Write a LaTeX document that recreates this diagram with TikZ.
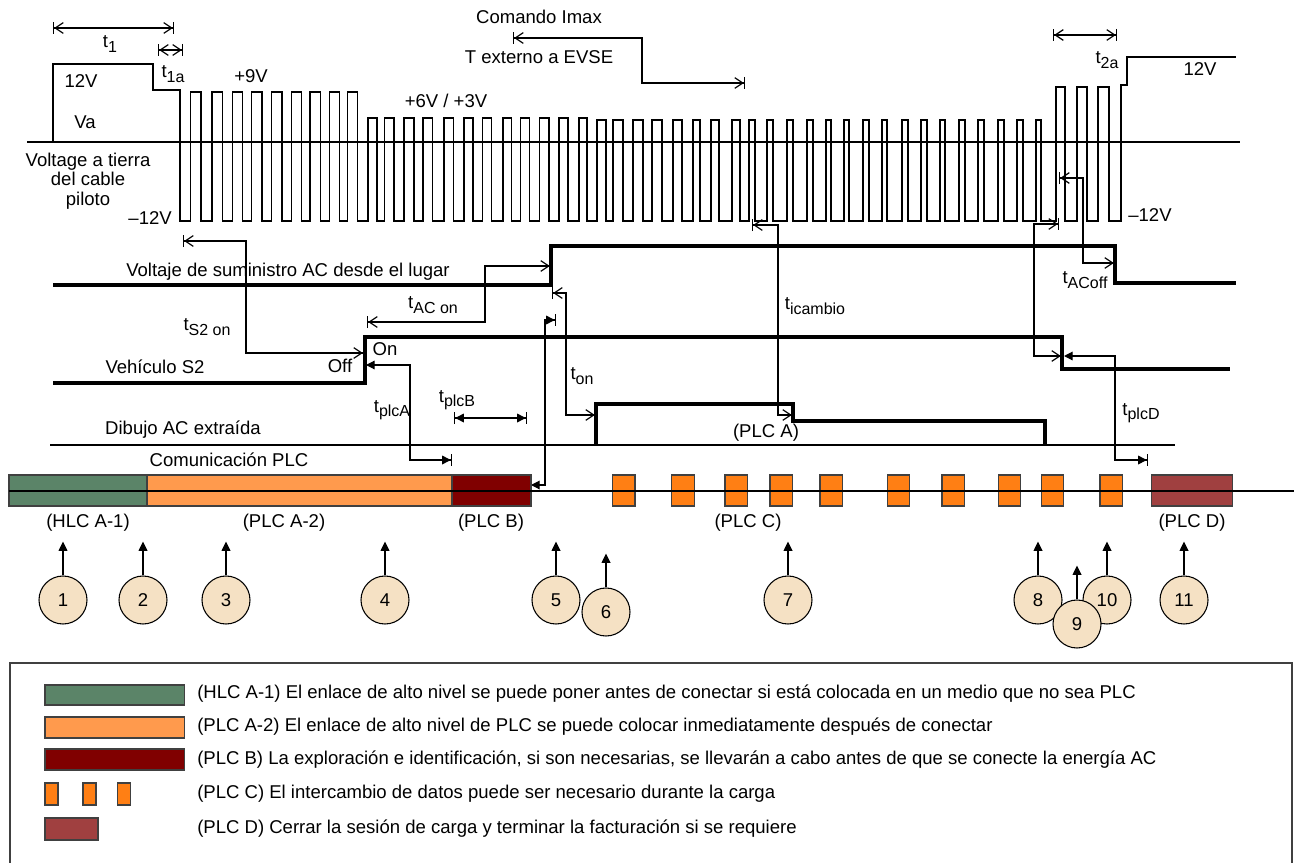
\documentclass[tikz,border=0pt]{standalone}
\usepackage{fontspec}
\setmainfont{Liberation Sans}
\usetikzlibrary{arrows.meta}
\definecolor{hlcgreen}{RGB}{91,132,104}
\definecolor{plcaorange}{RGB}{255,154,77}
\definecolor{plcbred}{RGB}{128,0,0}
\definecolor{plccorange}{RGB}{255,127,20}
\definecolor{plcdred}{RGB}{160,64,64}
\definecolor{circfill}{RGB}{245,225,196}
\newcommand\tsub[1]{\raisebox{-0.45ex}{\fontsize{12}{12}\selectfont #1}}
\begin{document}
\begin{tikzpicture}[x=0.75pt,y=-0.75pt,
  txt/.style={font=\fontsize{13.9}{14.6}\selectfont, inner sep=0pt},
  wave/.style={line width=1pt},
  sig/.style={line width=2.3pt},
  dim/.style={line width=0.9pt},
  oo/.style={dim,{Bar[width=9pt]Straight Barb[length=6pt,width=8pt]}-{Straight Barb[length=6pt,width=8pt]Bar[width=9pt]}},
  ff/.style={dim,{Bar[width=9pt]Triangle[length=6.5pt,width=6.5pt]}-{Triangle[length=6.5pt,width=6.5pt]Bar[width=9pt]}},
  fnf/.style={dim,{Triangle[length=6.5pt,width=6.5pt]}-{Triangle[length=6.5pt,width=6.5pt]Bar[width=9pt]}},
  upar/.style={line width=1pt,-{Triangle[length=7pt,width=6.5pt]}},
  plcbox/.style={draw=black!75,line width=0.8pt},
  num/.style={circle,draw,line width=0.8pt,fill=circfill,minimum size=36pt,inner sep=0pt,font=\fontsize{13.9}{14}\selectfont}
]
\useasboundingbox (0,0) rectangle (1302,863);

% ---------------- pilot waveform ----------------
\draw[wave] (27,142) -- (1240,142);
\draw[wave] (53,142) -- (53,64) -- (153,64) -- (153,90) -- (180,90) -- (180,221)
  \foreach \r/\f in {190.7/201,212/222.7,232.7/242.7,251.7/262,271.7/282,291.7/301.7,310/320.7,329.3/339.3,347.7/357.7}
    { -- (\r,221) -- (\r,92) -- (\f,92) -- (\f,221)}
  \foreach \r/\f in {368/377,384.5/394,404/414,423/432.5,444/453.5,464/473,482.5/491.5,503/511.5,520.5/529.3,539.5/549,559/568,579/587}
    { -- (\r,221) -- (\r,118) -- (\f,118) -- (\f,221)}
  \foreach \r/\f in {597/606,613/623,633/643,652/662,673/682,693/700,711/719,732/740,749/755,767/773,787/793,807/813,826/831,844/849,863/869,882/887,902/908,921/927,940/945,959/965,978/984,998/1004,1017/1023,1036/1041}
    { -- (\r,221) -- (\r,120) -- (\f,120) -- (\f,221)}
  \foreach \r/\f in {1056/1065,1077/1087,1098/1109}
    { -- (\r,221) -- (\r,87) -- (\f,87) -- (\f,221)}
  -- (1121,221) -- (1121,85) -- (1127,85) -- (1127,57) -- (1236,57);

\node[txt] (v12a) at (81,81) {12V};
\node[txt] (va) at (85,122) {Va};
\node[txt,align=center] (vlab) at (88,181) {Voltage a tierra\\del cable\\piloto};
\node[txt,anchor=east] (m12a) at (172,218) {–12V};
\node[txt] (p9) at (251,76) {+9V};
\node[txt] (p6) at (446,101) {+6V / +3V};
\node[txt] (cmd) at (539,17) {Comando Imax};
\node[txt] (text) at (539,57) {T externo a EVSE};
\node[txt] (v12b) at (1200,69) {12V};
\node[txt] (m12b) at (1150,215) {–12V};
\node[txt] (t1l) at (110,44) {t\tsub{1}};
\node[txt] (t1al) at (173,74) {t\tsub{1a}};
\node[txt] (t2al) at (1107,60) {t\tsub{2a}};

\coordinate (t1s) at (53,28);   \coordinate (t1e) at (174,28);
\coordinate (t1as) at (158,50); \coordinate (t1ae) at (183,50);
\coordinate (t2as) at (1053,35);\coordinate (t2ae) at (1117,35);
\draw[oo] (t1s) -- (t1e);
\draw[oo] (t1as) -- (t1ae);
\draw[oo] (t2as) -- (t2ae);
\coordinate (cmA) at (513,38); \coordinate (cmB) at (642,38);
\coordinate (cmC) at (642,83); \coordinate (cmD) at (745,83);
\draw[oo] (cmA) -- (cmB) -- (cmC) -- (cmD);

% ---------------- signals ----------------
\draw[sig] (53,285) -- (551,285) -- (551,246) -- (1115,246) -- (1115,283) -- (1236,283);
\draw[sig] (53,383) -- (365,383) -- (365,337) -- (1062,337) -- (1062,369) -- (1230,369);
\draw[line width=1.5pt] (50,445) -- (1175,445);
\draw[sig] (596,445) -- (596,404) -- (793,404) -- (793,421) -- (1045,421) -- (1045,445);

\node[txt] (aclab) at (288,272) {Voltaje de suministro AC desde el lugar};
\node[txt] (s2lab) at (155,367) {Vehículo S2};
\node[txt] (onl) at (385,349) {On};
\node[txt] (offl) at (340,366) {Off};
\node[txt] (dib) at (183,430) {Dibujo AC extraída};
\node[txt] (plca) at (766,433) {(PLC A)};
\node[txt] (com) at (229,460) {Comunicación PLC};

% timing arrows
\draw[oo] (183,241) -- (246,241) -- (246,353) -- (364,353);
\node[txt] at (207,327) {t\tsub{S2 on}};
\draw[oo] (367,322) -- (485,322) -- (485,266) -- (551,266);
\node[txt] at (433,305) {t\tsub{AC on}};
\draw[oo] (552,293) -- (566,293) -- (566,415) -- (596,415);
\node[txt] at (582,376) {t\tsub{on}};
\draw[oo] (752,225) -- (778,225) -- (778,415) -- (793,415);
\node[txt] at (815,306) {t\tsub{icambio}};
\draw[oo] (1059,178) -- (1083,178) -- (1083,263) -- (1115,263);
\node[txt] at (1085,280) {t\tsub{ACoff}};
\draw[oo] (1059,224) -- (1034,224) -- (1034,356) -- (1062,356);
\draw[fnf] (366,365) -- (410,365) -- (410,460) -- (452,460);
\node[txt] at (392,410) {t\tsub{plcA}};
\draw[ff] (454,418) -- (527,418);
\node[txt] at (457,400) {t\tsub{plcB}};
\draw[fnf] (1064,356) -- (1115,356) -- (1115,460) -- (1148,460);
\node[txt] at (1141,413) {t\tsub{plcD}};
\draw[dim,{Bar[width=9pt]Triangle[length=6.5pt,width=6.5pt]}-{Triangle[length=6.5pt,width=6.5pt]}] (556,320) -- (545,320) -- (545,485) -- (531,485);

% ---------------- PLC bar ----------------
\draw[plcbox,fill=hlcgreen] (9,475) rectangle (147,506);
\draw[plcbox,fill=plcaorange] (147,475) rectangle (452,506);
\draw[plcbox,fill=plcbred] (452,475) rectangle (531,506);
\foreach \x in {612.5,671.6,725,770,820,887.4,942,998.4,1041.4,1100}
  \draw[plcbox,fill=plccorange] (\x,475) rectangle ++(22.5,31);
\draw[plcbox,fill=plcdred] (1151.5,475) rectangle (1232.5,506);
\draw[line width=1pt] (9,491) -- (1294,491);

\node[txt] (l1) at (88,523) {(HLC A-1)};
\node[txt] (l2) at (284,523) {(PLC A-2)};
\node[txt] (l3) at (491,523) {(PLC B)};
\node[txt] (l4) at (748,523) {(PLC C)};
\node[txt] (l5) at (1192,523) {(PLC D)};

% ---------------- numbered circles ----------------
\foreach \n/\x/\y in {1/63/600,2/143/600,3/226/600,4/385/600,5/556/600,6/606/612,7/788/600,8/1038/600,10/1107/600,11/1184/600,9/1077/624}{
  \node[num] (c\n) at (\x,\y) {\n};
  \draw[upar] (c\n.north) -- ++(0,-34);
}

% ---------------- legend ----------------
\draw[line width=0.8pt,black!75] (10,663) rectangle (1292,890);
\draw[plcbox,fill=hlcgreen] (45,685) rectangle (184.5,705);
\draw[plcbox,fill=plcaorange] (45,717) rectangle (184.5,738);
\draw[plcbox,fill=plcbred] (45,749) rectangle (184.5,770);
\foreach \x in {45,83,117.5}
  \draw[plcbox,fill=plccorange] (\x,783) rectangle ++(13,22);
\draw[plcbox,fill=plcdred] (45,818) rectangle (98,840);
\node[txt,anchor=west] (g1) at (197,694) {(HLC A-1) El enlace de alto nivel se puede poner antes de conectar si está colocada en un medio que no sea PLC};
\node[txt,anchor=west] (g2) at (197,727) {(PLC A-2) El enlace de alto nivel de PLC se puede colocar inmediatamente después de conectar};
\node[txt,anchor=west] (g3) at (197,760) {(PLC B) La exploración e identificación, si son necesarias, se llevarán a cabo antes de que se conecte la energía AC};
\node[txt,anchor=west] (g4) at (197,794) {(PLC C) El intercambio de datos puede ser necesario durante la carga};
\node[txt,anchor=west] (g5) at (197,829) {(PLC D) Cerrar la sesión de carga y terminar la facturación si se requiere};
\end{tikzpicture}
\end{document}
